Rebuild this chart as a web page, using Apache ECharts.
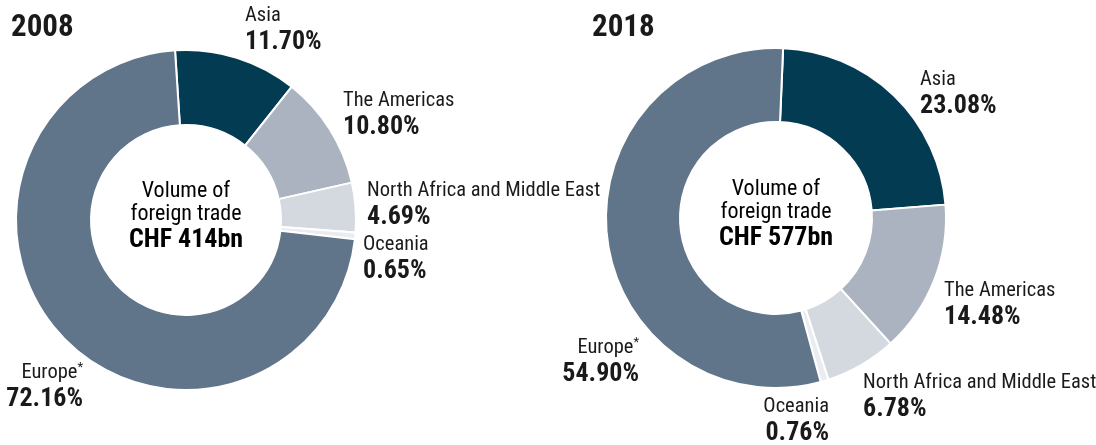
<!DOCTYPE html>
<html>
<head>
<meta charset="utf-8">
<style>
  html, body { margin: 0; padding: 0; background: #fff; }
  #chart { width: 1096px; height: 445px; }
</style>
<script src="https://cdn.jsdelivr.net/npm/echarts@6/dist/echarts.min.js"></script>
</head>
<body>
<div id="chart"></div>
<script>
// regions, same order in both years
var regions = ['Asia', 'The Americas', 'North Africa and Middle East', 'Oceania', 'Europe*'];
var years = ['2008', '2018'];
var share2008 = [11.70, 10.80, 4.69, 0.65, 72.16];
var share2018 = [23.08, 14.48, 6.78, 0.76, 54.90];
var volumes = ['CHF 414bn', 'CHF 577bn'];

var colors = ['#033c52', '#abb3c1', '#d4d9e0', '#e9edf2', '#60758a'];
var FONT = 'Roboto, "DejaVu Sans Condensed", sans-serif';
var TXT = '#1a1a1a';

// label anchor per slice (x, top of the text block, align)
var labelPos = [
    [[245, 4, 'left'], [343, 89, 'left'], [367, 179, 'left'], [363, 233, 'left'], [83, 361, 'right']],
    [[920, 68, 'left'], [944, 279, 'left'], [863, 371, 'left'], [829, 395, 'right'], [639, 336, 'right']]
];

var myChart = echarts.init(document.getElementById('chart'));

function makeData(vals) {
    return regions.map(function (r, i) {
        return { name: r, value: vals[i] };
    });
}

function labelText(p) {
    var name = p.name;
    var nameTxt = '{n|' + name + '}';
    if (name.slice(-1) === '*') {
        nameTxt = '{n|' + name.slice(0, -1) + '}{s|*}';
    }
    return nameTxt + '\n{v|' + p.value.toFixed(2) + '%}';
}

function makePie(idx, vals, center, radius, startAngle) {
    return {
        type: 'pie',
        center: center,
        radius: radius,
        startAngle: startAngle,
        clockwise: true,
        avoidLabelOverlap: false,
        silent: true,
        itemStyle: {
            borderColor: '#fff',
            borderWidth: 2
        },
        label: {
            show: true,
            position: 'outside',
            formatter: labelText,
            rich: {
                n: { fontFamily: FONT, fontStyle: 'condensed', fontSize: 20.5, lineHeight: 24, color: TXT },
                s: { fontFamily: FONT, fontStyle: 'condensed', fontSize: 13, lineHeight: 24, color: TXT, verticalAlign: 'top', padding: [0, 0, 6, 0] },
                v: { fontFamily: FONT, fontStyle: 'condensed', fontSize: 26, fontWeight: 'bold', lineHeight: 28, color: TXT }
            }
        },
        labelLine: { show: false },
        labelLayout: function (params) {
            var p = labelPos[idx][params.dataIndex];
            return { x: p[0], y: p[1], align: p[2], verticalAlign: 'top' };
        },
        data: makeData(vals)
    };
}

function centerText(x, y, vol) {
    return {
        type: 'text',
        silent: true,
        style: {
            x: x,
            y: y,
            text: '{a|Volume of}\n{a|foreign trade}\n{b|' + vol + '}',
            align: 'center',
            verticalAlign: 'top',
            rich: {
                a: { fontFamily: FONT, fontStyle: 'condensed', fontSize: 22, lineHeight: 23, color: TXT, align: 'center' },
                b: { fontFamily: FONT, fontStyle: 'condensed', fontSize: 26, fontWeight: 'bold', lineHeight: 28, color: TXT, align: 'center' }
            }
        }
    };
}

function yearText(x, y, t) {
    return {
        type: 'text',
        silent: true,
        style: { x: x, y: y, text: t, font: 'condensed bold 31px ' + FONT, fill: TXT }
    };
}

var option = {
    animation: false,
    color: colors,
    graphic: [
        yearText(11, 13, years[0]),
        yearText(592, 13, years[1]),
        centerText(186, 180, volumes[0]),
        centerText(776, 178, volumes[1])
    ],
    series: [
        makePie(0, share2008, [186, 220], [95, 170], 93.7),
        makePie(1, share2018, [776, 218], [96, 170], 87.6)
    ]
};

myChart.setOption(option);
</script>
</body>
</html>
